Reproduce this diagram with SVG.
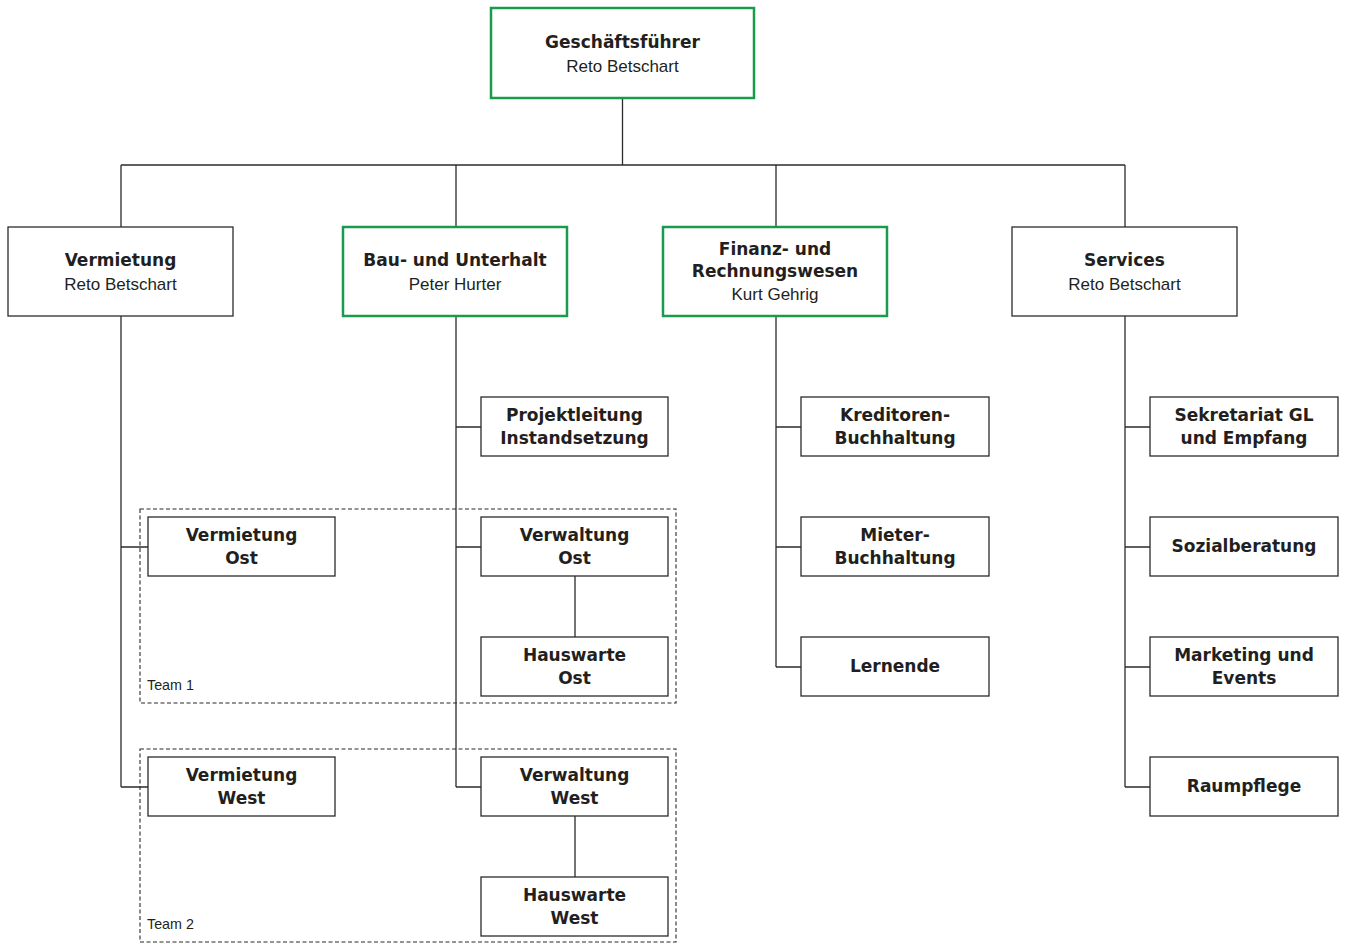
<svg xmlns="http://www.w3.org/2000/svg" width="1345" height="944" viewBox="0 0 1345 944">
<style>
.box{fill:#fff;stroke:#2b2b2b;stroke-width:1.3}
.gbox{fill:#fff;stroke:#1a9b4b;stroke-width:2.5}
.team{fill:none;stroke:#2b2b2b;stroke-width:1.1;stroke-dasharray:4 2.5}
.ln{fill:none;stroke:#2b2b2b;stroke-width:1.3}
.b{font-family:"DejaVu Sans",sans-serif;font-weight:bold;font-size:17px;fill:#231f20;text-anchor:middle}
.r{font-family:"Liberation Sans",Arial,sans-serif;font-size:17px;fill:#231f20;text-anchor:middle}
.t{font-family:"Liberation Sans",Arial,sans-serif;font-size:14.3px;fill:#231f20}
</style>
<rect width="1345" height="944" fill="#fff"/>
<g id="teams">
<rect class="team" x="140" y="509" width="536" height="194"/>
<text class="t" x="147" y="690">Team 1</text>
<rect class="team" x="140" y="749" width="536" height="193"/>
<text class="t" x="147" y="929">Team 2</text>
</g>
<g id="connectors">
<path class="ln" d="M622.5 98V165M121 165H1125M121 165V227M456 165V227M776 165V227M1125 165V227"/>
<path class="ln" d="M121 316V787M121 547H148M121 787H148"/>
<path class="ln" d="M456 316V787M456 427H481M456 547H481M456 787H481"/>
<path class="ln" d="M575 576V637M575 816V877"/>
<path class="ln" d="M776 316V667M776 427H801M776 547H801M776 667H801"/>
<path class="ln" d="M1125 316V787M1125 427H1150M1125 547H1150M1125 667H1150M1125 787H1150"/>
</g>
<g id="geschaeftsfuehrer">
<rect class="gbox" x="491" y="8" width="263" height="90"/>
<text class="b" x="622.5" y="48">Geschäftsführer</text>
<text class="r" x="622.5" y="72">Reto Betschart</text>
</g>
<g id="vermietung">
<rect class="box" x="8" y="227" width="225" height="89"/>
<text class="b" x="120.5" y="266">Vermietung</text>
<text class="r" x="120.5" y="290">Reto Betschart</text>
</g>
<g id="bau">
<rect class="gbox" x="343" y="227" width="224" height="89"/>
<text class="b" x="455" y="266">Bau- und Unterhalt</text>
<text class="r" x="455" y="290">Peter Hurter</text>
</g>
<g id="finanz">
<rect class="gbox" x="663" y="227" width="224" height="89"/>
<text class="b" x="775" y="255">Finanz- und</text>
<text class="b" x="775" y="277">Rechnungswesen</text>
<text class="r" x="775" y="300">Kurt Gehrig</text>
</g>
<g id="services">
<rect class="box" x="1012" y="227" width="225" height="89"/>
<text class="b" x="1124.5" y="266">Services</text>
<text class="r" x="1124.5" y="290">Reto Betschart</text>
</g>
<g id="projektleitung">
<rect class="box" x="481" y="397" width="187" height="59"/>
<text class="b" x="574.5" y="421">Projektleitung</text>
<text class="b" x="574.5" y="444">Instandsetzung</text>
</g>
<g id="vermietung-ost">
<rect class="box" x="148" y="517" width="187" height="59"/>
<text class="b" x="241.5" y="541">Vermietung</text>
<text class="b" x="241.5" y="564">Ost</text>
</g>
<g id="verwaltung-ost">
<rect class="box" x="481" y="517" width="187" height="59"/>
<text class="b" x="574.5" y="541">Verwaltung</text>
<text class="b" x="574.5" y="564">Ost</text>
</g>
<g id="hauswarte-ost">
<rect class="box" x="481" y="637" width="187" height="59"/>
<text class="b" x="574.5" y="661">Hauswarte</text>
<text class="b" x="574.5" y="684">Ost</text>
</g>
<g id="vermietung-west">
<rect class="box" x="148" y="757" width="187" height="59"/>
<text class="b" x="241.5" y="781">Vermietung</text>
<text class="b" x="241.5" y="804">West</text>
</g>
<g id="verwaltung-west">
<rect class="box" x="481" y="757" width="187" height="59"/>
<text class="b" x="574.5" y="781">Verwaltung</text>
<text class="b" x="574.5" y="804">West</text>
</g>
<g id="hauswarte-west">
<rect class="box" x="481" y="877" width="187" height="59"/>
<text class="b" x="574.5" y="901">Hauswarte</text>
<text class="b" x="574.5" y="924">West</text>
</g>
<g id="kreditoren">
<rect class="box" x="801" y="397" width="188" height="59"/>
<text class="b" x="895" y="421">Kreditoren-</text>
<text class="b" x="895" y="444">Buchhaltung</text>
</g>
<g id="mieter">
<rect class="box" x="801" y="517" width="188" height="59"/>
<text class="b" x="895" y="541">Mieter-</text>
<text class="b" x="895" y="564">Buchhaltung</text>
</g>
<g id="lernende">
<rect class="box" x="801" y="637" width="188" height="59"/>
<text class="b" x="895" y="672">Lernende</text>
</g>
<g id="sekretariat">
<rect class="box" x="1150" y="397" width="188" height="59"/>
<text class="b" x="1244" y="421">Sekretariat GL</text>
<text class="b" x="1244" y="444">und Empfang</text>
</g>
<g id="sozialberatung">
<rect class="box" x="1150" y="517" width="188" height="59"/>
<text class="b" x="1244" y="552">Sozialberatung</text>
</g>
<g id="marketing">
<rect class="box" x="1150" y="637" width="188" height="59"/>
<text class="b" x="1244" y="661">Marketing und</text>
<text class="b" x="1244" y="684">Events</text>
</g>
<g id="raumpflege">
<rect class="box" x="1150" y="757" width="188" height="59"/>
<text class="b" x="1244" y="792">Raumpflege</text>
</g>
</svg>
